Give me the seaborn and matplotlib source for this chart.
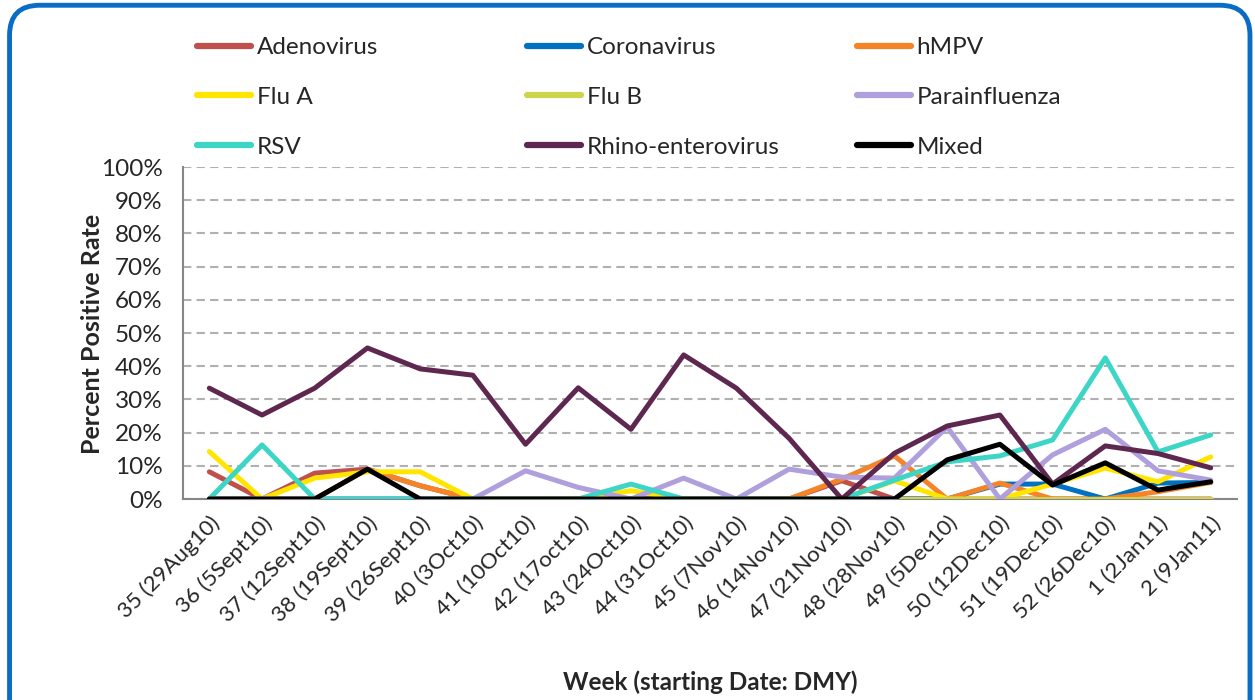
import matplotlib
matplotlib.use("Agg")
import matplotlib.pyplot as plt
from matplotlib.patches import FancyBboxPatch
from matplotlib.colors import to_hex
from matplotlib.ticker import FixedLocator, FuncFormatter
import seaborn as sns
import pandas as pd

# week labels (starting date DMY)
weeks = ['35 (29Aug10)', '36 (5Sept10)', '37 (12Sept10)', '38 (19Sept10)', '39 (26Sept10)',
         '40 (3Oct10)', '41 (10Oct10)', '42 (17oct10)', '43 (24Oct10)', '44 (31Oct10)',
         '45 (7Nov10)', '46 (14Nov10)', '47 (21Nov10)', '48 (28Nov10)', '49 (5Dec10)',
         '50 (12Dec10)', '51 (19Dec10)', '52 (26Dec10)', '1 (2Jan11)', '2 (9Jan11)']

# percent positive per virus
adenovirus = [8.2, 0, 7.8, 9, 4, 0, 0, 0, 0, 0, 0, 0, 5.5, 0, 0, 0, 0, 0, 0, 0]
coronavirus = [0, 0, 0, 0, 0, 0, 0, 0, 0, 0, 0, 0, 0, 0, 0, 4.5, 4.5, 0, 4.8, 5]
hmpv = [0, 0, 0, 9, 4, 0, 0, 0, 0, 0, 0, 0, 6, 13, 0, 4.8, 0, 0, 2.2, 5]
flu_a = [14.3, 0, 6.3, 8.2, 8.2, 0, 0, 0, 2.5, 0, 0, 0, 0, 5.5, 0, 0, 4.5, 9.3, 5.2, 12.7]
flu_b = [0, 0, 0, 0, 0, 0, 0, 0, 0, 0, 0, 0, 0, 0, 0, 0, 0, 0, 0, 0]
parainfluenza = [0, 0, 0, 0, 0, 0, 8.5, 3.5, 0, 6.3, 0, 9, 6.6, 6.3, 21.7, 0, 13.3, 21, 8.5, 5.7]
rsv = [0, 16.3, 0, 0, 0, 0, 0, 0, 4.5, 0, 0, 0, 0, 5.7, 11.2, 13, 17.8, 42.5, 14.2, 19.3]
rhino = [33.4, 25.3, 33.4, 45.5, 39.2, 37.3, 16.5, 33.5, 21, 43.4, 33.4, 18.3, 0, 13.8, 22, 25.3, 4.5, 16, 13.7, 9.4]
mixed = [0, 0, 0, 9, 0, 0, 0, 0, 0, 0, 0, 0, 0, 0, 11.8, 16.5, 4.2, 10.9, 2.7, 5.2]

names = ['Adenovirus', 'Coronavirus', 'hMPV', 'Flu A', 'Flu B', 'Parainfluenza',
         'RSV', 'Rhino-enterovirus', 'Mixed']
series = [adenovirus, coronavirus, hmpv, flu_a, flu_b, parainfluenza, rsv, rhino, mixed]
colors = ['#c0504d', '#0070c0', '#f58428', '#ffe500', '#ccd54c', '#b09fdd',
          '#3dd6c6', '#5e2750', '#000000']

rows = []
for name, vals in zip(names, series):
    for i, v in enumerate(vals):
        rows.append({'week': i, 'virus': name, 'pct': v})
df = pd.DataFrame(rows)

sns.set_style('white')
plt.rcParams['font.family'] = ['Lato', 'DejaVu Sans']

fig = plt.figure(figsize=(12.55, 7), dpi=100)
ax = fig.add_axes([0.1458, 0.2871, 0.8399, 0.4743])

sns.lineplot(data=df, x='week', y='pct', hue='virus', hue_order=names,
             palette=dict(zip(names, colors)), linewidth=3.6, sort=False, ax=ax)

# keep excel's series stacking: later series on top
for line in ax.lines:
    c = to_hex(line.get_color())
    if c in colors:
        line.set_zorder(3 + colors.index(c) * 0.1)

handles, labels = ax.get_legend_handles_labels()
ax.get_legend().remove()

ax.set_xlim(-0.5, len(weeks) - 0.5)
ax.set_ylim(0, 100)
ax.set_xticks(range(len(weeks)))
ax.set_xticklabels(weeks, rotation=45, ha='right', rotation_mode='anchor', fontsize=16)
ax.xaxis.set_minor_locator(FixedLocator([i - 0.5 for i in range(len(weeks) + 1)]))
ax.tick_params(axis='x', which='major', length=0, pad=10)
ax.tick_params(axis='x', which='minor', length=6, width=1.5, color='#868686', direction='out')
ax.set_yticks(range(0, 101, 10))
ax.yaxis.set_major_formatter(FuncFormatter(lambda v, p: f'{v:.0f}%'))
ax.tick_params(axis='y', length=11, width=1.5, color='#868686', direction='inout',
               labelsize=17.5, pad=9)
ax.set_xlabel('')
ax.set_ylabel('')

ax.yaxis.grid(True, color='#B0B0B0', linewidth=1.5, dashes=(4, 2.5))
ax.set_axisbelow(True)
for s in ['top', 'right']:
    ax.spines[s].set_visible(False)
for s in ['left', 'bottom']:
    ax.spines[s].set_color('#868686')
    ax.spines[s].set_linewidth(1.5)

fig.text(0.074, 0.5225, 'Percent Positive Rate', rotation=90, ha='center', va='center',
         fontsize=18, fontweight='bold')
fig.text(0.566, 0.026, 'Week (starting Date: DMY)', ha='center', va='center',
         fontsize=17.5, fontweight='bold')

# legend, three columns placed like the original
col_x = [0.157, 0.42, 0.683]
for c in range(3):
    hs = [handles[c + 3 * r] for r in range(3)]
    ls = [labels[c + 3 * r] for r in range(3)]
    leg = fig.legend(hs, ls, loc='upper left', bbox_to_anchor=(col_x[c], 0.947),
                     frameon=False, fontsize=17.5, handlelength=2.2, handletextpad=0.25,
                     labelspacing=1.18, borderpad=0, borderaxespad=0)
    for line in leg.get_lines():
        line.set_linewidth(4.5)
        line.set_solid_capstyle('round')

border = FancyBboxPatch((0.0076, -0.1), 0.9884, 1.0925,
                        boxstyle='round,pad=0,rounding_size=0.024', mutation_aspect=1.79,
                        transform=fig.transFigure, fc='none', ec='#0A6CC4', lw=3.5)
fig.patches.append(border)

fig.savefig('out.png', dpi=100)
